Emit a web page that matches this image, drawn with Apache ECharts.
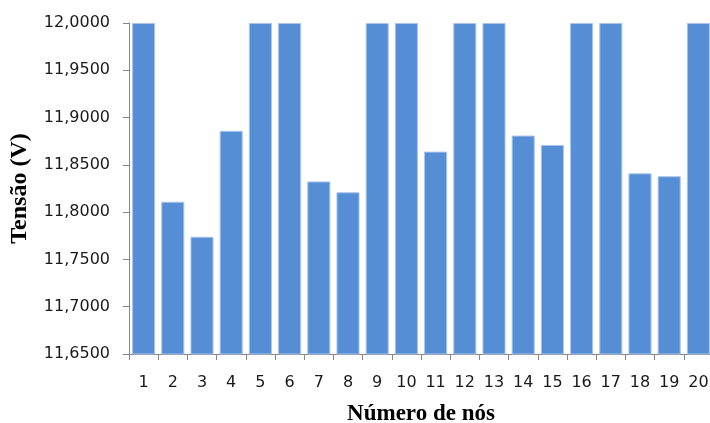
<!DOCTYPE html>
<html>
<head>
<meta charset="utf-8">
<script src="https://cdn.jsdelivr.net/npm/echarts@6/dist/echarts.min.js"></script>
<style>
  html, body { margin: 0; padding: 0; background: #fff; }
  #chart { width: 710px; height: 423px; }
</style>
</head>
<body>
<div id="chart"></div>
<script>
// Node numbers along the feeder
const nodes = ['1','2','3','4','5','6','7','8','9','10','11','12','13','14','15','16','17','18','19','20'];
// Voltage at each node (V)
const tensao = [12.0, 11.811, 11.774, 11.886, 12.0, 12.0, 11.8325, 11.821, 12.0, 12.0,
                11.864, 12.0, 12.0, 11.881, 11.871, 12.0, 12.0, 11.841, 11.838, 12.0];
// Voltage axis range and step
const yMin = 11.65, yMax = 12.0, yStep = 0.05;

const chart = echarts.init(document.getElementById('chart'));
chart.setOption({
  animation: false,
  grid: { left: 129, top: 23, right: -3, bottom: 69, containLabel: false, outerBoundsMode: 'none' },
  xAxis: {
    type: 'category',
    data: nodes,
    name: 'Número de nós',
    nameLocation: 'middle',
    nameGap: 49,
    nameTextStyle: { fontFamily: 'Liberation Serif', fontWeight: 'bold', fontSize: 23, color: '#000' },
    axisLine: { lineStyle: { color: '#868686', width: 1 } },
    axisTick: { show: true, length: 6, lineStyle: { color: '#868686' }, alignWithLabel: false },
    axisLabel: { fontFamily: 'DejaVu Sans', fontSize: 16, color: '#1a1a1a', margin: 21 },
    splitLine: { show: false }
  },
  yAxis: {
    type: 'value',
    min: yMin,
    max: yMax,
    interval: yStep,
    name: 'Tensão (V)',
    nameLocation: 'middle',
    nameGap: 97,
    nameTextStyle: { fontFamily: 'Liberation Serif', fontWeight: 'bold', fontSize: 24, color: '#000' },
    axisLine: { show: true, lineStyle: { color: '#868686', width: 1 } },
    axisTick: { show: true, length: 6, lineStyle: { color: '#868686' } },
    axisLabel: {
      fontFamily: 'DejaVu Sans', fontSize: 16, color: '#1a1a1a', margin: 19,
      formatter: v => v.toFixed(4).replace('.', ',')
    },
    splitLine: { show: false }
  },
  series: [{
    type: 'bar',
    data: tensao,
    barCategoryGap: '21%',
    itemStyle: { color: '#558ed5', borderColor: '#a9c5ec', borderWidth: 1 }
  }]
});
</script>
</body>
</html>
